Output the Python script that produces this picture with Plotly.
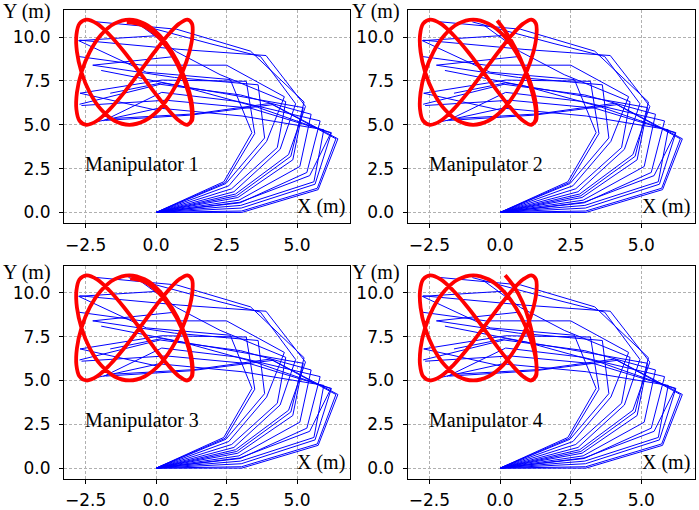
import plotly.graph_objects as go

# ---------------- data ----------------
x_tick_vals = [-2.5, 0.0, 2.5, 5.0]
x_tick_text = ["\u22122.5", "0.0", "2.5", "5.0"]
y_tick_vals = [0.0, 2.5, 5.0, 7.5, 10.0]
y_tick_text = ["0.0", "2.5", "5.0", "7.5", "10.0"]

panel_names = ["Manipulator 1", "Manipulator 2", "Manipulator 3", "Manipulator 4"]

# steady end-effector loop
loop_x = [1.11, 0.82, 0.42, -0.06, -0.59, -1.13, -1.65, -2.10, -2.47, -2.72, -2.83, -2.81,
          -2.65, -2.36, -1.96, -1.48, -0.95, -0.41, 0.11, 0.56, 0.93, 1.18, 1.29, 1.27,
          1.11, 0.82, 0.42, -0.06, -0.59, -1.13, -1.65, -2.10, -2.47, -2.72, -2.83, -2.81,
          -2.65, -2.36, -1.96, -1.48, -0.95, -0.41, 0.11, 0.56, 0.93, 1.18, 1.29, 1.27, 1.11]
loop_y = [5.00, 5.23, 5.88, 6.85, 8.00, 9.15, 10.12, 10.77, 11.00, 10.77, 10.12, 9.15,
          8.00, 6.85, 5.88, 5.23, 5.00, 5.23, 5.88, 6.85, 8.00, 9.15, 10.12, 10.77,
          11.00, 10.77, 10.12, 9.15, 8.00, 6.85, 5.88, 5.23, 5.00, 5.23, 5.88, 6.85,
          8.00, 9.15, 10.12, 10.77, 11.00, 10.77, 10.12, 9.15, 8.00, 6.85, 5.88, 5.23, 5.00]

# start transients of each manipulator
start1_x = [-1.04, -0.50, 0.02, 0.50, 0.88, 1.14, 1.26, 1.25]
start1_y = [10.85, 10.68, 10.10, 9.15, 8.00, 6.85, 5.88, 5.25]
start2_x = [-0.10, 0.20, 0.55, 0.88, 1.12, 1.26, 1.25]
start2_y = [10.95, 10.30, 9.35, 8.15, 6.95, 5.90, 5.25]
start3_x = [-0.92, -0.40, 0.06, 0.52, 0.90, 1.15, 1.27, 1.26]
start3_y = [10.82, 10.62, 10.05, 9.12, 8.00, 6.85, 5.88, 5.24]
start4_x = [0.18, 0.50, 0.80, 1.02, 1.18, 1.28, 1.27]
start4_y = [11.00, 10.35, 9.45, 8.45, 7.30, 6.10, 5.30]
starts_x = [start1_x, start2_x, start3_x, start4_x]
starts_y = [start1_y, start2_y, start3_y, start4_y]

# manipulator configurations (joint coordinates, base -> end effector)
arm_x = [
    [0, 3.04, 5.75, 6.45, 4.15, 1.20, -1.80],
    [0, 3.03, 5.72, 6.38, 4.05, 1.35, -1.62],
    [0, 3.02, 5.64, 6.22, 3.35, 0.35, -2.65],
    [0, 2.98, 5.35, 5.82, 2.90, 0.20, -1.87],
    [0, 2.94, 5.10, 5.50, 3.00, 0.14, -2.72],
    [0, 2.90, 4.85, 5.22, 2.35, 0.20, -1.63],
    [0, 2.86, 4.78, 5.25, 3.35, 0.73, -2.30],
    [0, 2.82, 4.70, 5.30, 3.90, 0.85, -2.72],
    [0, 2.76, 4.40, 4.95, 3.70, 1.91, -0.98],
    [0, 2.68, 4.30, 4.60, 2.27, 0.73, -0.57],
    [0, 2.58, 3.92, 4.55, 2.50, -0.50, -2.78],
    [0, 2.48, 3.85, 3.62, 0.65, -2.25, 0.70],
    [0, 2.40, 3.40, 2.63, -0.35, -2.75, 0.20],
    [0, 2.45, 3.50, 3.20, 0.20, -2.70, 0.10],
    [0, 3.00, 5.60, 5.95, 3.05, 0.10, -2.45],
    [0, 2.97, 5.45, 6.20, 3.60, 0.90, -1.95],
]
arm_y = [
    [0, 0.00, 1.30, 4.20, 6.15, 5.55, 5.25],
    [0, 0.08, 1.38, 4.20, 6.22, 5.62, 5.35],
    [0, 0.25, 1.61, 4.55, 5.95, 6.40, 6.10],
    [0, 0.55, 2.28, 5.22, 6.33, 6.85, 5.23],
    [0, 0.70, 2.62, 5.60, 6.70, 7.31, 6.17],
    [0, 0.85, 3.00, 5.98, 6.80, 7.39, 6.80],
    [0, 0.95, 3.20, 6.30, 9.20, 10.45, 10.90],
    [0, 1.05, 3.30, 6.05, 8.95, 9.30, 9.83],
    [0, 1.18, 3.60, 6.20, 8.90, 9.63, 10.87],
    [0, 1.35, 3.70, 6.32, 7.86, 9.16, 10.68],
    [0, 1.52, 4.05, 6.60, 8.40, 8.40, 8.90],
    [0, 1.65, 4.25, 7.28, 7.70, 8.40, 8.90],
    [0, 1.75, 4.55, 7.58, 8.00, 9.80, 10.10],
    [0, 1.70, 4.50, 7.48, 7.55, 6.80, 5.80],
    [0, 0.40, 1.75, 4.72, 5.50, 5.95, 5.05],
    [0, 0.58, 2.10, 4.53, 6.00, 7.20, 8.10],
]

# ---------------- layout geometry ----------------
W, H = 699, 510
x_domains = [(64 / W, 350 / W), (407.6 / W, 694.5 / W)]
y_domains = [(1 - 224 / H, 1 - 10 / H), (1 - 480.7 / H, 1 - 266.7 / H)]
x_range = [-3.27, 6.88]
y_range = [-0.61, 11.55]

fig = go.Figure()
layout_axes = {}
annotations = []
serif = dict(family="Liberation Serif, Times New Roman, serif", size=20, color="black")

for i in range(4):
    col = i % 2
    row = i // 2
    n = i + 1
    xa = "x" if n == 1 else f"x{n}"
    ya = "y" if n == 1 else f"y{n}"

    bx, by = [], []
    for ax_, ay_ in zip(arm_x, arm_y):
        bx += list(ax_) + [None]
        by += list(ay_) + [None]
    fig.add_trace(go.Scatter(x=bx, y=by, mode="lines", xaxis=xa, yaxis=ya,
                             line=dict(color="#0000ff", width=1.0), showlegend=False,
                             hoverinfo="skip"))
    rx = starts_x[i] + loop_x
    ry = starts_y[i] + loop_y
    fig.add_trace(go.Scatter(x=rx, y=ry, mode="lines", xaxis=xa, yaxis=ya,
                             line=dict(color="#ff0000", width=3.8, shape="spline", smoothing=1.0),
                             showlegend=False, hoverinfo="skip"))

    common = dict(showline=True, linecolor="black", linewidth=1, mirror=True,
                  ticks="outside", ticklen=4, tickwidth=1, tickcolor="black",
                  showgrid=True, gridcolor="#b0b0b0", gridwidth=0.8, griddash="3px,2px",
                  zeroline=False,
                  tickfont=dict(family="DejaVu Sans", size=17, color="black"))
    xkey = "xaxis" if n == 1 else f"xaxis{n}"
    ykey = "yaxis" if n == 1 else f"yaxis{n}"
    layout_axes[xkey] = dict(domain=list(x_domains[col]), range=x_range, anchor=ya,
                             tickvals=x_tick_vals, ticktext=x_tick_text,
                             ticklabelstandoff=2, **common)
    layout_axes[ykey] = dict(domain=list(y_domains[row]), range=y_range, anchor=xa,
                             tickvals=y_tick_vals, ticktext=y_tick_text,
                             ticklabelstandoff=5, **common)

    annotations.append(dict(x=-2.58, y=2.74, xref=xa, yref=ya, text=panel_names[i],
                            showarrow=False, xanchor="left", yanchor="middle", font=serif))
    annotations.append(dict(x=6.78, y=0.33, xref=xa, yref=ya, text="X (m)",
                            showarrow=False, xanchor="right", yanchor="middle", font=serif))
    ylab_x = (53 if col == 0 else 402.3) / W
    ylab_y = 1 - (11.5 if row == 0 else 274.0) / H
    annotations.append(dict(x=ylab_x, y=ylab_y, xref="paper", yref="paper", text="Y (m)",
                            showarrow=False, xanchor="right", yanchor="middle", font=serif))

fig.update_layout(width=W, height=H, margin=dict(l=0, r=0, t=0, b=0),
                  paper_bgcolor="white", plot_bgcolor="white",
                  annotations=annotations, **layout_axes)

fig.write_html("out.html")
